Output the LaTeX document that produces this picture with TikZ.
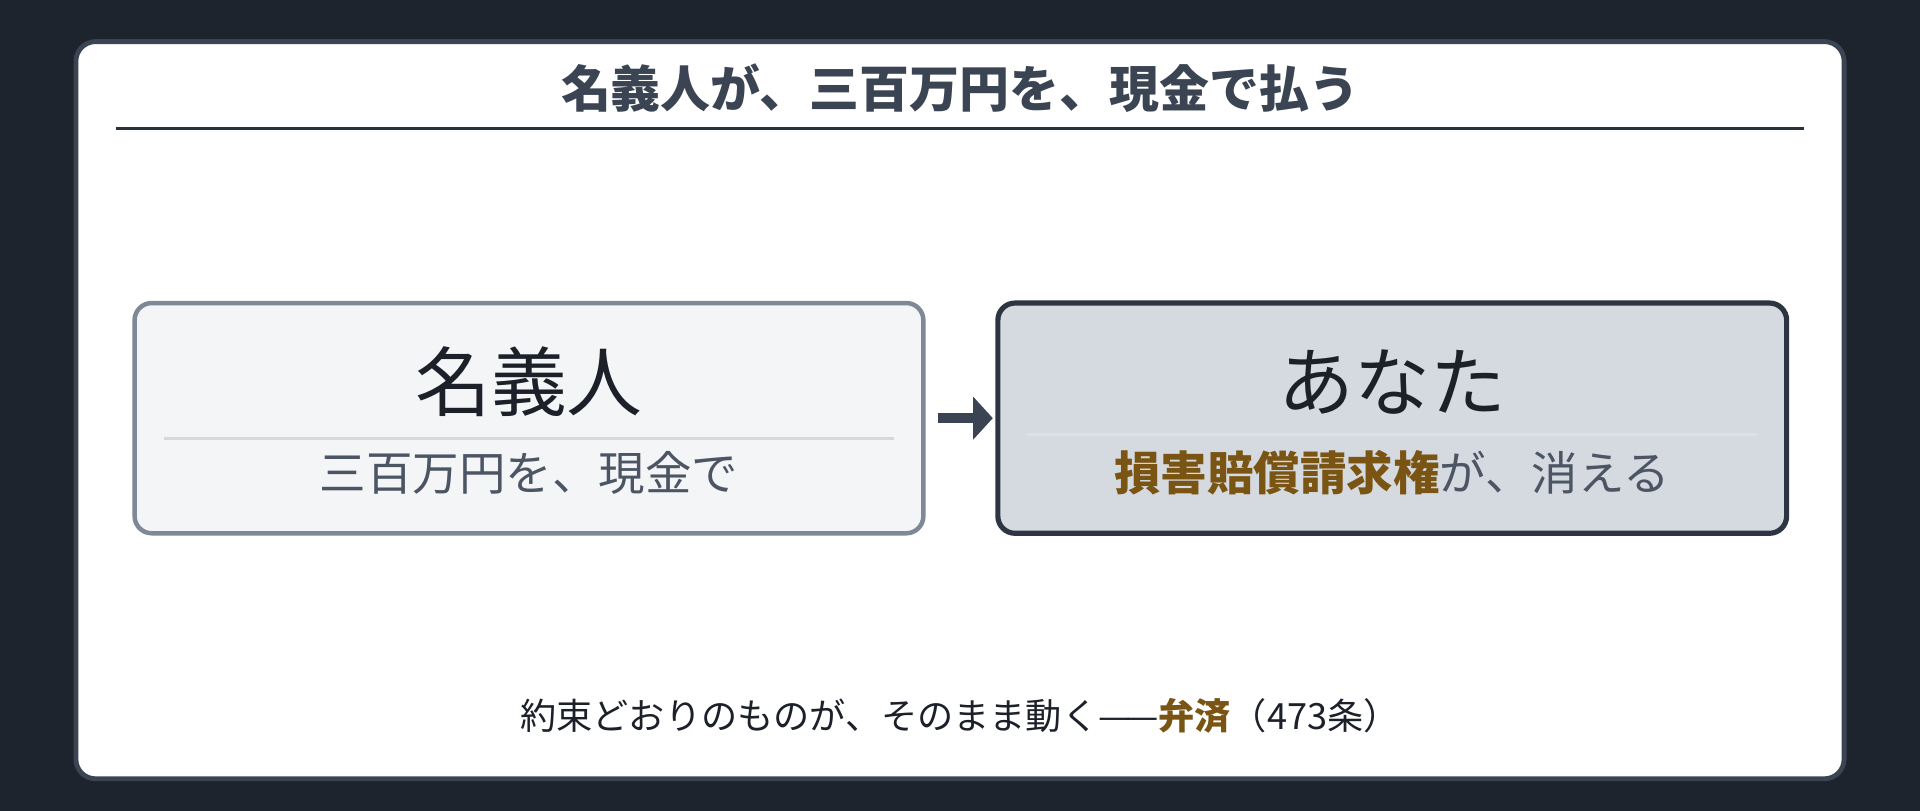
\documentclass[tikz,border=0pt]{standalone}
\usepackage{fontspec}
\setmainfont{Noto Sans CJK JP}
\usepackage{xcolor}
\usetikzlibrary{
    arrows.meta,
    calc,
    positioning
}
\definecolor{bgdark}{HTML}{1E242E}
\definecolor{slate}{HTML}{3B4453}
\definecolor{rulecol}{HTML}{2B313C}
\definecolor{ink}{HTML}{1C2029}
\definecolor{subink}{HTML}{4B5563}
\definecolor{amber}{HTML}{7A5412}
\definecolor{paleedge}{HTML}{7F8896}
\definecolor{palefill}{HTML}{F4F5F7}
\definecolor{darkedge}{HTML}{2E3542}
\definecolor{darkfill}{HTML}{D5DAE1}
\definecolor{palesep}{HTML}{D5D8DC}
\definecolor{darksep}{HTML}{DDE0E4}

\begin{document}
\begin{tikzpicture}[x=0.025cm, y=-0.025cm,
    party/.style={rounded corners=0.35cm, minimum width=16.1cm, minimum height=4.7cm, inner sep=0pt},
    partyname/.style={font=\fontsize{44}{48}\selectfont, text=ink},
    partydetail/.style={font=\fontsize{27}{30}\selectfont, text=subink}]
                        \fill[bgdark] (0, 0) rectangle (1568, 662);
                        \draw[slate, line width=2.8pt, fill=white, rounded corners=0.4cm] (62, 34) rectangle (1506, 636);
                        \node[font=\fontsize{29}{32}\selectfont\bfseries, text=slate] (title) at (784, 72) {名義人が、三百万円を、現金で払う};
                        \draw[rulecol, line width=1.6pt] (95, 105) -- (1473, 105);
                        \node[party, draw=paleedge, fill=palefill, line width=2.6pt] (nominee) at (432, 341.5) {};
                        \node[party, draw=darkedge, fill=darkfill, line width=3pt] (you) at (1137, 341.5) {};
                        \draw[palesep, line width=1.4pt] ($(nominee.center)+(-298, 16.5)$) -- ($(nominee.center)+(298, 16.5)$);
                        \draw[darksep, line width=1.4pt] ($(you.center)+(-298, 13.5)$) -- ($(you.center)+(298, 13.5)$);
                        \node[partyname] (nomineename) at ($(nominee.center)+(0, -29.5)$) {名義人};
                        \node[partydetail] (nomineedetail) at ($(nominee.center)+(0, 44.5)$) {三百万円を、現金で};
                        \node[partyname] (youname) at ($(you.center)+(0, -29.5)$) {あなた};
                        \node[partydetail] (youdetail) at ($(you.center)+(0, 44.5)$) {{\bfseries\color{amber}損害賠償請求権}が、消える};
                        \draw
                        (nominee.east) edge[slate, line width=5.7pt, shorten <=0.25cm, shorten >=0.05cm, -{Triangle[length=0.4cm, width=0.85cm]}] (you.west);
                        \node[font=\fontsize{21}{24}\selectfont, text=ink] (footer) at (784, 585) {約束どおりのものが、そのまま動く—\kern-0.12em—{\bfseries\color{amber}弁済}（473条）};
                    \end{tikzpicture}
\end{document}
